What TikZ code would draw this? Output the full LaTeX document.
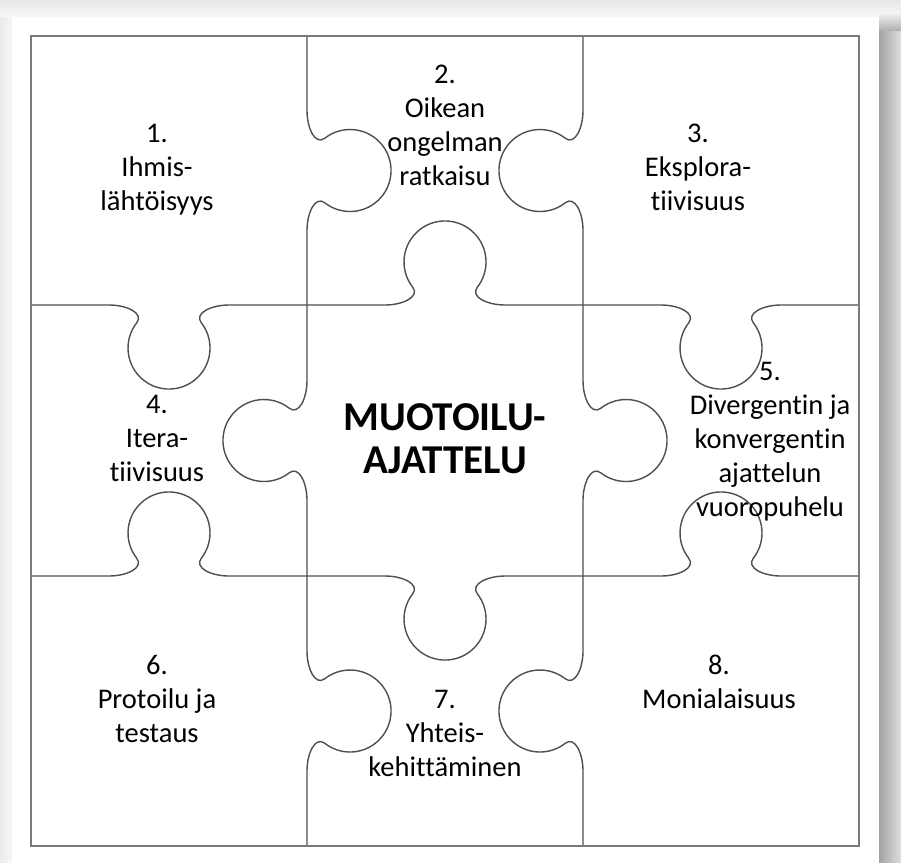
\documentclass[tikz,border=0pt]{standalone}
\usepackage{fontspec}
\setmainfont{Carlito}[Ligatures=NoCommon]
\definecolor{framegray}{HTML}{7A7A7A}
\definecolor{cutgray}{HTML}{4F4F4F}
\definecolor{bggray}{HTML}{F1F1F1}
\tikzset{
  puz/.style={draw=cutgray, line width=1.4pt},
  frm/.style={draw=framegray, line width=2pt},
  lbl/.style={anchor=base, inner sep=0pt, font=\fontsize{28.5}{34}\selectfont},
  ttl/.style={anchor=base, inner sep=0pt, font=\fontsize{41}{43}\selectfont\bfseries}
}
\newcommand\knobpath[1]{%
  \pgfmathsetmacro\km{#1/2}%
  \draw[puz] (0,0) -- ({\km-60},0) .. controls ({\km-42},0) and ({\km-24.9},8.3) .. ({\km-32.3},17.8)
    arc[start angle=218, end angle=-38, radius=41]
    .. controls ({\km+24.9},8.3) and ({\km+42},0) .. ({\km+60},0) -- (#1,0);}
% horizontal edge: x0, y, length, d (1 = knob down, -1 = knob up)
\newcommand\hedge[4]{\begin{scope}[cm={1,0,0,#4,(#1,#2)}]\knobpath{#3}\end{scope}}
% vertical edge: x, y0, length, c (-1 = knob right, 1 = knob left)
\newcommand\vedge[4]{\begin{scope}[cm={0,-1,#4,0,(#1,#2)}]\knobpath{#3}\end{scope}}
\begin{document}
\begin{tikzpicture}[x=1pt,y=-1pt]
\useasboundingbox (0,0) rectangle (901,862);
% background and shadow
\fill[bggray] (0,0) rectangle (901,862);
\shade[top color=black!9, bottom color=black!3] (0,0) rectangle (901,17);
\shade[left color=black!8, right color=black!3] (0,17) rectangle (12,862);
\shade[left color=black!36, right color=black!13] (879,30) rectangle (901,862);
\shade[top color=black!7, bottom color=black!30] (879,14) rectangle (901,30);
\fill[white] (12,17) rectangle (879,862);
% puzzle cuts
\vedge{307}{36}{269}{-1}
\vedge{307}{305}{271}{1}
\vedge{307}{576}{270}{-1}
\vedge{583}{36}{269}{1}
\vedge{583}{305}{271}{-1}
\vedge{583}{576}{270}{1}
\hedge{31}{305}{276}{1}
\hedge{307}{305}{276}{-1}
\hedge{583}{305}{276}{1}
\hedge{31}{576}{276}{-1}
\hedge{307}{576}{276}{1}
\hedge{583}{576}{276}{-1}
% frame
\draw[frm] (31,36) rectangle (859,846);
% labels
\node[lbl] (p1) at (157,142) {\begin{tabular}[t]{@{}c@{}}1.\\Ihmis-\\lähtöisyys\end{tabular}};
\node[lbl] (p2) at (445,83) {\begin{tabular}[t]{@{}c@{}}2.\\Oikean\\ongelman\\ratkaisu\end{tabular}};
\node[lbl] (p3) at (698,142) {\begin{tabular}[t]{@{}c@{}}3.\\Eksplora-\\tiivisuus\end{tabular}};
\node[lbl] (p4) at (157,413) {\begin{tabular}[t]{@{}c@{}}4.\\Itera-\\tiivisuus\end{tabular}};
\node[lbl] (p5) at (770,380) {\begin{tabular}[t]{@{}c@{}}5.\\Divergentin ja\\konvergentin\\ajattelun\\vuoropuhelu\end{tabular}};
\node[lbl] (p6) at (157,674) {\begin{tabular}[t]{@{}c@{}}6.\\Protoilu ja\\testaus\end{tabular}};
\node[lbl] (p7) at (445,708) {\begin{tabular}[t]{@{}c@{}}7.\\Yhteis-\\kehittäminen\end{tabular}};
\node[lbl] (p8) at (719,674) {\begin{tabular}[t]{@{}c@{}}8.\\Monialaisuus\end{tabular}};
\node[ttl] (c) at (445,430) {\begin{tabular}[t]{@{}c@{}}MUOTOILU-\\AJATTELU\end{tabular}};
\end{tikzpicture}
\end{document}
